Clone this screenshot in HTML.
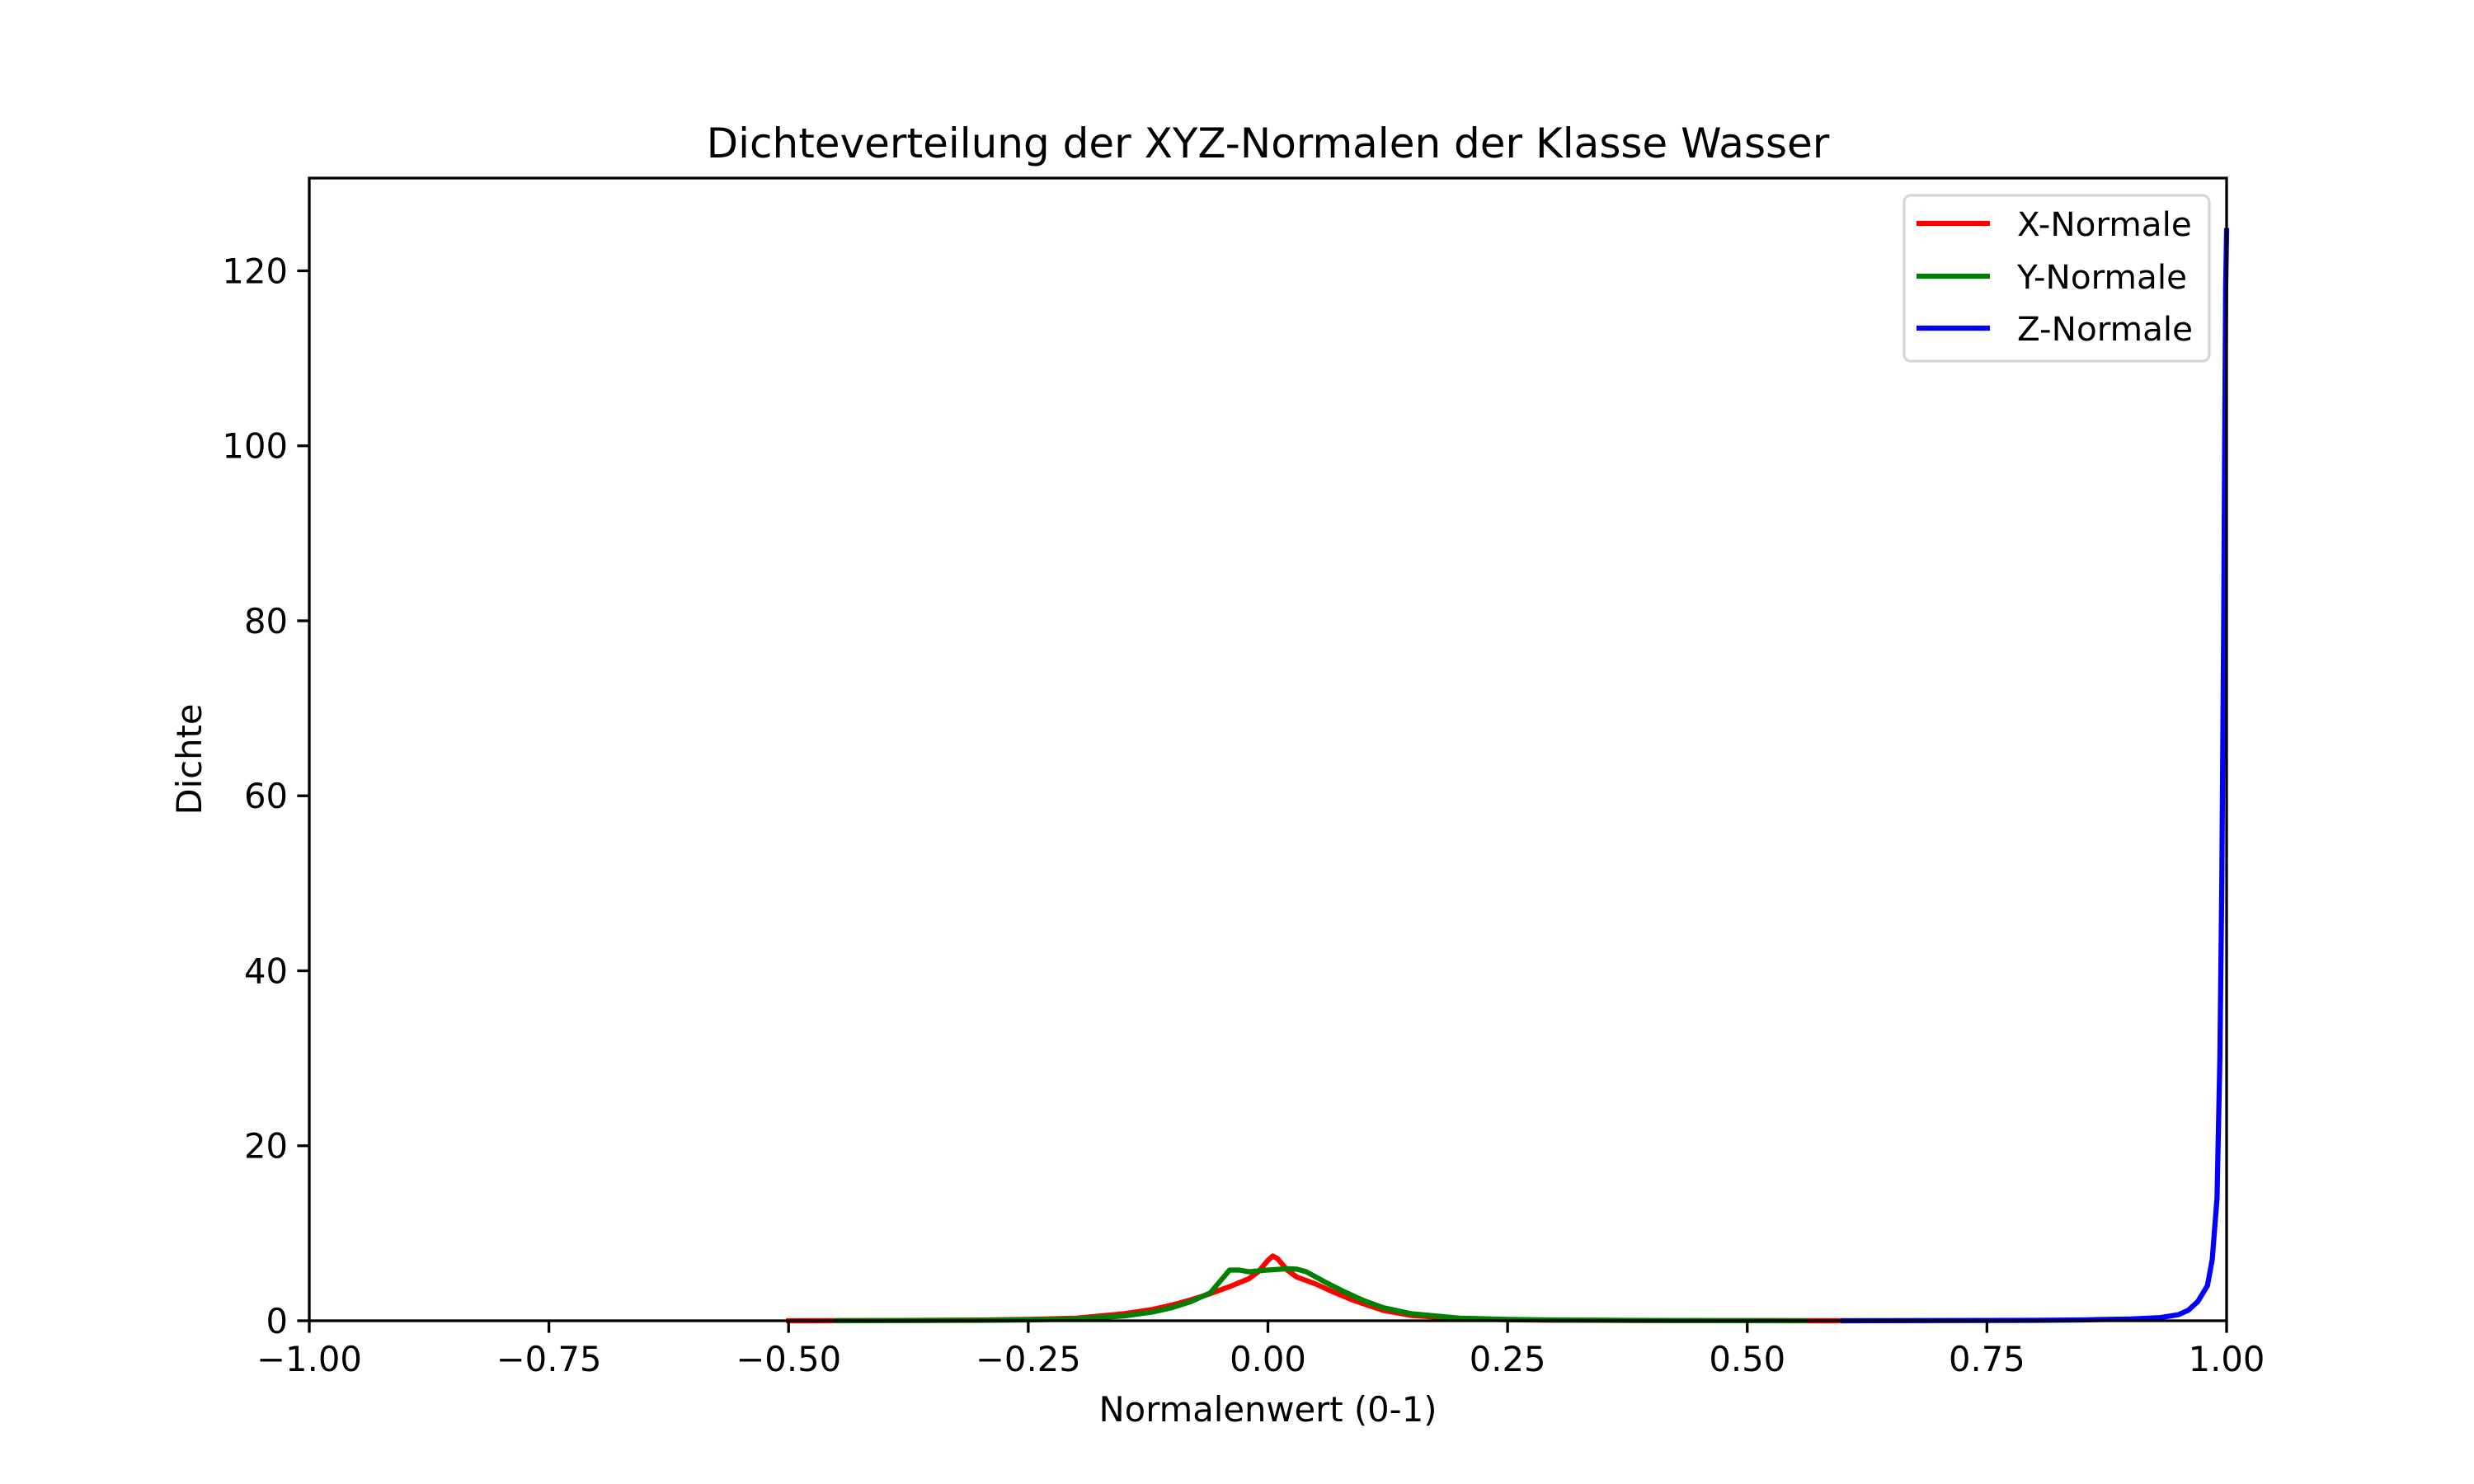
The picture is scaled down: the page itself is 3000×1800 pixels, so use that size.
<!DOCTYPE html>
<html><head><meta charset="utf-8"><style>
html,body{margin:0;padding:0;background:#fff}
svg{display:block;font-family:"DejaVu Sans","Liberation Sans",sans-serif}
</style></head><body>
<svg id="chart" width="3000" height="1800" viewBox="0 0 3000 1800" xmlns="http://www.w3.org/2000/svg">
<rect width="3000" height="1800" fill="#fff"/>
<text x="1537.5" y="191" font-size="50" text-anchor="middle">Dichteverteilung der XYZ-Normalen der Klasse Wasser</text>
<g id="series"></g>
<g id="axes"></g>
<text x="1537.5" y="1724" font-size="41.7" text-anchor="middle">Normalenwert (0-1)</text>
<text transform="translate(244,921) rotate(-90)" font-size="41.7" text-anchor="middle">Dichte</text>
<g>
<rect x="2309" y="237" width="370" height="201" rx="8" fill="#fff" fill-opacity="0.8" stroke="#d6d6d6" stroke-width="3.3"/>
<g><line x1="2324" y1="271" x2="2413" y2="271" stroke="#ff0000" stroke-width="6.25"/><text x="2446" y="286" font-size="40.5">X-Normale</text></g>
<g><line x1="2324" y1="335" x2="2413" y2="335" stroke="#008000" stroke-width="6.25"/><text x="2446" y="350" font-size="40.5">Y-Normale</text></g>
<g><line x1="2324" y1="398" x2="2413" y2="398" stroke="#0000ff" stroke-width="6.25"/><text x="2446" y="413" font-size="40.5">Z-Normale</text></g>
</g>
</svg>
<script>
const xTicks=[-1,-0.75,-0.5,-0.25,0,0.25,0.5,0.75,1];
const xTickLabels=["\u22121.00","\u22120.75","\u22120.50","\u22120.25","0.00","0.25","0.50","0.75","1.00"];
const yTicks=[0,20,40,60,80,100,120];
const xNormX=[-0.5,-0.4,-0.3,-0.25,-0.2,-0.15,-0.12,-0.1,-0.08,-0.06,-0.04,-0.02,-0.01,0,0.005,0.01,0.02,0.03,0.05,0.07,0.09,0.12,0.15,0.2,0.25,0.3,0.4,0.5,0.6];
const xNormY=[0,0.02,0.08,0.15,0.3,0.8,1.3,1.8,2.4,3.1,3.9,4.8,5.6,6.9,7.4,7.1,5.8,5.0,4.2,3.2,2.3,1.2,0.6,0.25,0.12,0.06,0.02,0.01,0];
const yNormX=[-0.45,-0.3,-0.25,-0.2,-0.15,-0.12,-0.1,-0.08,-0.06,-0.05,-0.04,-0.03,-0.02,0,0.02,0.03,0.04,0.06,0.08,0.1,0.12,0.15,0.2,0.25,0.3,0.4,0.56];
const yNormY=[0,0.05,0.1,0.2,0.55,1.0,1.5,2.2,3.2,4.5,5.8,5.8,5.6,5.8,5.95,5.9,5.6,4.4,3.3,2.3,1.5,0.8,0.3,0.15,0.08,0.03,0];
const zNormX=[0.6,0.7,0.8,0.85,0.9,0.93,0.95,0.96,0.97,0.98,0.985,0.99,0.993,0.995,0.997,0.998,0.999,1.0];
const zNormY=[0,0.02,0.05,0.1,0.2,0.35,0.7,1.2,2.2,4,7,14,30,50,80,100,118,124.6];

const L=375,R=2700,T=216,B=1602,XMIN=-1,XMAX=1,YMIN=0,YMAX=130.6;
const sx=v=>L+(v-XMIN)/(XMAX-XMIN)*(R-L);
const sy=v=>B-(v-YMIN)/(YMAX-YMIN)*(B-T);
const NS="http://www.w3.org/2000/svg";
const mk=(tag,attrs,parent)=>{const e=document.createElementNS(NS,tag);for(const k in attrs)e.setAttribute(k,attrs[k]);parent.appendChild(e);return e;};
const series=document.getElementById('series'),axes=document.getElementById('axes');
function drawLine(xs,ys,color,name){
  const d=xs.map((x,i)=>(i?'L':'M')+sx(x).toFixed(2)+','+sy(ys[i]).toFixed(2)).join(' ');
  const p=mk('path',{d:d,fill:'none',stroke:color,'stroke-width':6.25,'stroke-linejoin':'round','stroke-linecap':'square'},series);
  
  
}
drawLine(xNormX,xNormY,'#ff0000','x-normale-line');
drawLine(yNormX,yNormY,'#008000','y-normale-line');
drawLine(zNormX,zNormY,'#0000ff','z-normale-line');
const frame=mk('rect',{x:L,y:T,width:R-L,height:B-T,fill:'none',stroke:'#000','stroke-width':3.3},axes);


xTicks.forEach((v,i)=>{
  const t=mk('line',{x1:sx(v),y1:B,x2:sx(v),y2:B+14.6,stroke:'#000','stroke-width':3.3},axes);
  
  
  const tx=mk('text',{x:sx(v),y:B+61,'font-size':41.7,'text-anchor':'middle'},axes);
  tx.textContent=xTickLabels[i];
  
  
});
yTicks.forEach(v=>{
  const t=mk('line',{x1:L-14.6,y1:sy(v),x2:L,y2:sy(v),stroke:'#000','stroke-width':3.3},axes);
  
  
  const tx=mk('text',{x:L-26,y:sy(v)+15,'font-size':41.7,'text-anchor':'end'},axes);
  tx.textContent=String(v);
  
  
});
</script>
</body></html>
